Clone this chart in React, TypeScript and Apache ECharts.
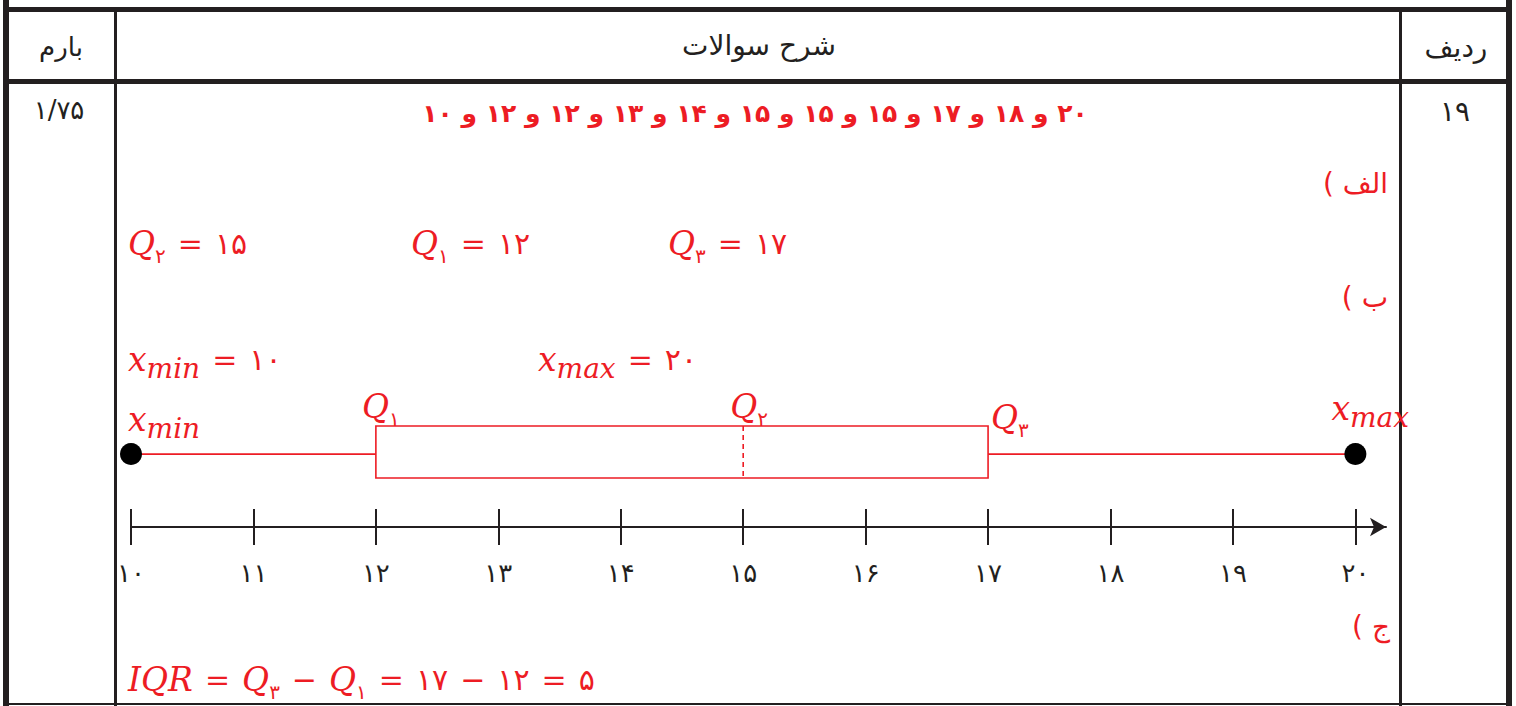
import { useEffect, useRef } from 'react';
import * as echarts from 'echarts';

const RED = '#ED1C24';
const BLACK = '#231F20';

// ---- data ----
const SCORES = [20, 18, 17, 15, 15, 15, 14, 13, 12, 12, 10];
const FIVE_NUM = [10, 12, 15, 17, 20]; // xmin, Q1, Q2, Q3, xmax
const TICKS = [10, 11, 12, 13, 14, 15, 16, 17, 18, 19, 20];
const TICK_LABELS = ['۱۰', '۱۱', '۱۲', '۱۳', '۱۴', '۱۵', '۱۶', '۱۷', '۱۸', '۱۹', '۲۰'];
const HEADERS = ['بارم', 'شرح سوالات', 'ردیف'];
const ROW_NUM = '۱۹';
const ROW_SCORE = '۱/۷۵';
const PART_LABELS = ['الف )', 'ب )', 'ج )'];
const IQR = FIVE_NUM[3] - FIVE_NUM[1];

const FA_DIGITS = '۰۱۲۳۴۵۶۷۸۹';
const fa = (n: number) => String(n).replace(/\d/g, (d) => FA_DIGITS[+d]);
const rtl = (s: string) => '\u202B' + s + '\u202C';

const WHISKER_Y = 0.46;

const rich: any = {
  it: { fontFamily: 'DejaVu Serif', fontStyle: 'italic', fontSize: 33, fill: RED, lineHeight: 46 },
  sub: { fontFamily: 'DejaVu Sans', fontSize: 20, fill: RED, lineHeight: 18, verticalAlign: 'bottom' },
  isub: { fontFamily: 'DejaVu Serif', fontStyle: 'italic', fontSize: 28, fill: RED, lineHeight: 23, verticalAlign: 'bottom' },
  op: { fontFamily: 'DejaVu Serif', fontSize: 30, fill: RED, lineHeight: 46, padding: [0, 12, 0, 12] },
  fa: { fontFamily: 'DejaVu Sans', fontSize: 30, fill: RED, lineHeight: 46 },
};

const mq = (sub: string) => `{it|Q}{sub|${sub}}`;
const mx = (sub: string) => `{it|x}{isub|${sub}}`;

function rect(x: number, y: number, w: number, h: number) {
  return { type: 'rect', silent: true, shape: { x, y, width: w, height: h }, style: { fill: BLACK } };
}

function txt(text: string, x: number, y: number, size: number, color: string, align: string, weight = 'normal') {
  return {
    type: 'text',
    silent: true,
    x,
    y,
    style: {
      text,
      fontFamily: 'DejaVu Sans',
      fontSize: size,
      fontWeight: weight,
      fill: color,
      align,
      verticalAlign: 'middle',
    },
  };
}

function math(text: string, x: number, y: number) {
  return {
    type: 'text',
    silent: true,
    x,
    y,
    style: { text, rich, align: 'left', verticalAlign: 'middle' },
  };
}

function buildOption(): any {
  const graphic: any[] = [
    // table frame
    rect(3, 0, 6, 706),
    rect(1506, 0, 6, 706),
    rect(3, 7, 1509, 5),
    rect(3, 79, 1509, 5),
    rect(3, 703, 1509, 2),
    rect(114, 12, 3, 694),
    rect(1399, 12, 3, 694),
    // header
    txt(rtl(HEADERS[0]), 61, 47, 26, BLACK, 'center'),
    txt(rtl(HEADERS[1]), 759, 45, 28, BLACK, 'center'),
    txt(rtl(HEADERS[2]), 1456, 47, 28, BLACK, 'center'),
    // row
    txt(ROW_SCORE, 59, 110, 26, BLACK, 'center'),
    txt(ROW_NUM, 1455, 111, 28, BLACK, 'center'),
    txt(rtl(SCORES.map(fa).join(' و ')), 755, 113, 25, RED, 'center', 'bold'),
    // parts
    txt(rtl(PART_LABELS[0]), 1388, 183, 28, RED, 'right'),
    txt(rtl(PART_LABELS[1]), 1388, 297, 28, RED, 'right'),
    txt(rtl(PART_LABELS[2]), 1390, 626, 28, RED, 'right'),
    // equations
    math(`${mq(fa(2))}{op|=}{fa|${fa(FIVE_NUM[2])}}`, 128, 243),
    math(`${mq(fa(1))}{op|=}{fa|${fa(FIVE_NUM[1])}}`, 411, 243),
    math(`${mq(fa(3))}{op|=}{fa|${fa(FIVE_NUM[3])}}`, 668, 243),
    math(`${mx('min')}{op|=}{fa|${fa(FIVE_NUM[0])}}`, 128, 359),
    math(`${mx('max')}{op|=}{fa|${fa(FIVE_NUM[4])}}`, 538, 359),
    math(
      `{it|IQR}{op|=}${mq(fa(3))}{op|−}${mq(fa(1))}{op|=}{fa|${fa(FIVE_NUM[3])}}{op|−}{fa|${fa(FIVE_NUM[1])}}{op|=}{fa|${fa(IQR)}}`,
      128,
      679
    ),
  ];

  const xBase = {
    type: 'value',
    min: 10,
    max: 20.25,
    interval: 1,
    position: 'bottom',
    offset: 49,
    splitLine: { show: false },
  };

  return {
    animation: false,
    backgroundColor: '#fff',
    grid: { left: 131, right: 130, top: 426, bottom: 228 },
    xAxis: [
      {
        ...xBase,
        axisLine: {
          show: true,
          onZero: false,
          symbol: ['none', 'arrow'],
          symbolSize: [14, 16],
          lineStyle: { color: BLACK, width: 2 },
        },
        axisTick: { show: true, inside: false, length: 18, customValues: TICKS, lineStyle: { color: BLACK, width: 2 } },
        axisLabel: {
          show: true,
          customValues: TICKS,
          margin: 33,
          fontFamily: 'DejaVu Sans',
          fontSize: 26,
          color: BLACK,
          formatter: (v: number) => TICK_LABELS[Math.round(v - 10)] ?? '',
        },
      },
      {
        ...xBase,
        axisLine: { show: false, onZero: false },
        axisTick: { show: true, inside: true, length: 18, customValues: TICKS, lineStyle: { color: BLACK, width: 2 } },
        axisLabel: { show: false },
      },
    ],
    yAxis: { type: 'value', min: 0, max: 1, show: false },
    graphic,
    series: [
      {
        type: 'custom',
        xAxisIndex: 0,
        z: 2,
        encode: { x: [0, 1, 2, 3, 4] },
        data: [FIVE_NUM],
        renderItem: (_params: any, api: any) => {
          const lo = api.coord([api.value(0), WHISKER_Y]);
          const tl = api.coord([api.value(1), 1]);
          const mid = api.coord([api.value(2), 0]);
          const br = api.coord([api.value(3), 0]);
          const hi = api.coord([api.value(4), WHISKER_Y]);
          const ls = { stroke: RED, lineWidth: 1.6, fill: 'none' };
          return {
            type: 'group',
            children: [
              { type: 'rect', shape: { x: tl[0], y: tl[1], width: br[0] - tl[0], height: br[1] - tl[1] }, style: ls },
              { type: 'line', shape: { x1: lo[0], y1: lo[1], x2: tl[0], y2: lo[1] }, style: ls },
              { type: 'line', shape: { x1: br[0], y1: hi[1], x2: hi[0], y2: hi[1] }, style: ls },
              { type: 'line', shape: { x1: mid[0], y1: tl[1], x2: mid[0], y2: br[1] }, style: { ...ls, lineDash: [5, 4] } },
              { type: 'text', x: lo[0] - 3, y: tl[1] - 7, style: { text: mx('min'), rich, align: 'left', verticalAlign: 'middle' } },
              { type: 'text', x: tl[0] - 14, y: tl[1] - 20, style: { text: mq(fa(1)), rich, align: 'left', verticalAlign: 'middle' } },
              { type: 'text', x: mid[0] - 13, y: tl[1] - 20, style: { text: mq(fa(2)), rich, align: 'left', verticalAlign: 'middle' } },
              { type: 'text', x: br[0] + 3, y: tl[1] - 9, style: { text: mq(fa(3)), rich, align: 'left', verticalAlign: 'middle' } },
              { type: 'text', x: hi[0] - 24, y: tl[1] - 18, style: { text: mx('max'), rich, align: 'left', verticalAlign: 'middle' } },
            ],
          };
        },
      },
      {
        type: 'scatter',
        xAxisIndex: 0,
        z: 3,
        clip: false,
        symbol: 'circle',
        symbolSize: 22,
        itemStyle: { color: '#000', opacity: 1 },
        data: [
          [FIVE_NUM[0], WHISKER_Y],
          [FIVE_NUM[4], WHISKER_Y],
        ],
      },
    ],
  };
}

export default function App() {
  const ref = useRef<HTMLDivElement>(null);
  useEffect(() => {
    const chart = echarts.init(ref.current!, null, { renderer: 'svg' });
    chart.setOption(buildOption());
    return () => chart.dispose();
  }, []);
  return (
    <div
      ref={ref}
      style={{ position: 'absolute', left: 0, top: 0, width: 1516, height: 706, background: '#fff' }}
    />
  );
}
